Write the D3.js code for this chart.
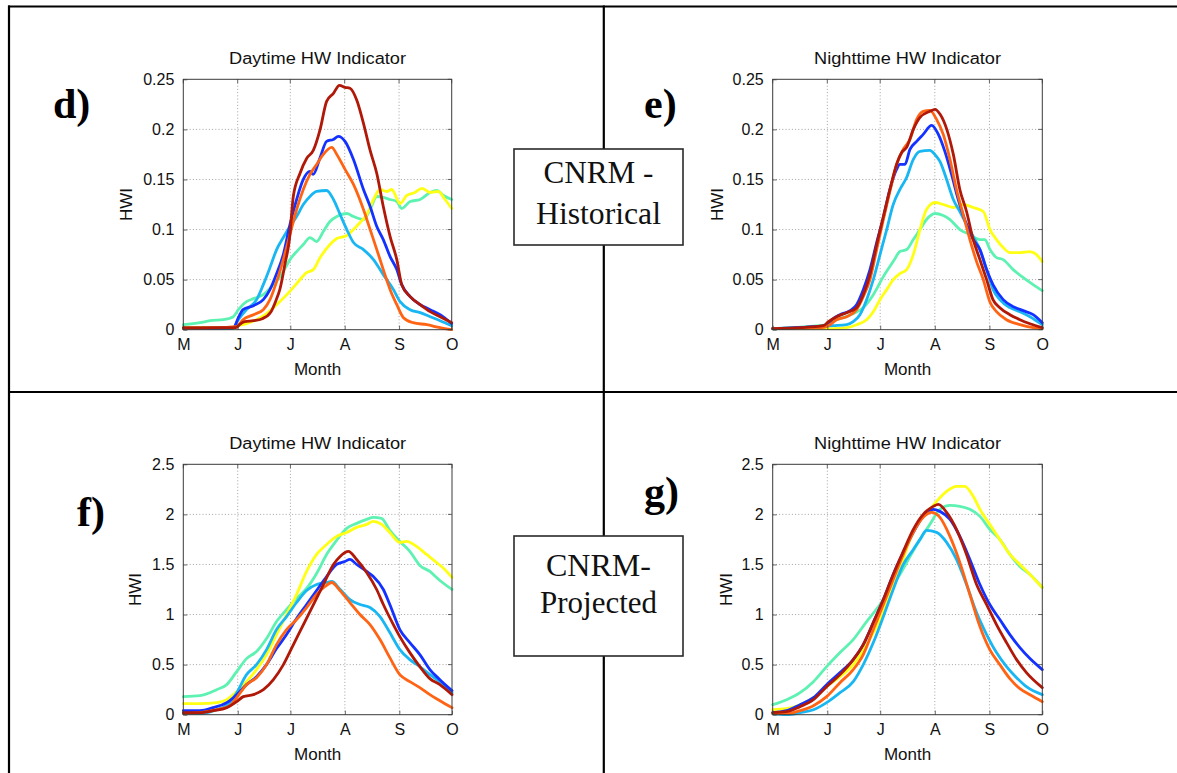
<!DOCTYPE html>
<html><head><meta charset="utf-8">
<script src="https://cdn.jsdelivr.net/npm/d3@7"></script>
<style>
html,body{margin:0;padding:0;background:#fff;}
svg{display:block;}
</style></head>
<body>
<svg id="chart" width="1177" height="773"></svg>
<script>
// ---------- DATA ----------
// x = day since 1 May (0 .. 153 = 1 Oct), y = HWI
const monthTicks = [0, 31, 61, 92, 123, 153];
const monthLabels = ["M", "J", "J", "A", "S", "O"];
const histTicks = [0, 0.05, 0.1, 0.15, 0.2, 0.25];
const histTickLabels = ["0", "0.05", "0.1", "0.15", "0.2", "0.25"];
const projTicks = [0, 0.5, 1, 1.5, 2, 2.5];
const projTickLabels = ["0", "0.5", "1", "1.5", "2", "2.5"];
const seriesNames = ["aqua", "yellow", "sky", "blue", "orange", "red"];

// Panel d) CNRM historical, daytime
const dBlue = [[0,0.001],[28.5,0.002],[31.4,0.012],[34,0.02],[40,0.024],[45.6,0.03],[49.4,0.04],[53,0.055],[57,0.075],[60.8,0.105],[64.6,0.13],[68.4,0.15],[72.2,0.158],[74,0.155],[78,0.172],[81.7,0.188],[85.5,0.19],[88.4,0.193],[92.2,0.188],[97,0.17],[102.7,0.14],[106.5,0.123],[110.3,0.103],[114,0.09],[117.9,0.073],[121.7,0.06],[124.5,0.045],[129.3,0.033],[135,0.025],[140.7,0.02],[146.4,0.015],[153,0.006]];
const dSky = [[0,0.001],[28,0.001],[31.4,0.01],[36,0.02],[41.8,0.03],[45.6,0.045],[49.4,0.062],[53.2,0.08],[57,0.092],[60.8,0.103],[64.6,0.113],[68.4,0.125],[72.2,0.133],[76,0.138],[81.7,0.139],[85.6,0.13],[89.4,0.115],[93.2,0.1],[97,0.087],[102.7,0.08],[108.4,0.07],[114,0.055],[119.8,0.04],[123.6,0.028],[129.3,0.02],[135,0.017],[140.7,0.013],[146.4,0.009],[153,0.004]];
const dAqua = [[0,0.005],[9.5,0.007],[15.2,0.009],[22.8,0.01],[28.5,0.013],[31.4,0.02],[36,0.028],[40,0.031],[45.6,0.035],[51.3,0.045],[56,0.055],[60.8,0.07],[64.6,0.078],[68.4,0.085],[72.2,0.092],[76,0.088],[79.8,0.098],[83.6,0.108],[87.5,0.113],[93.2,0.116],[97,0.113],[102.7,0.11],[106.5,0.12],[110.3,0.133],[114,0.132],[117.9,0.13],[121.7,0.128],[124.5,0.121],[129.3,0.128],[135,0.13],[140.7,0.137],[144.5,0.139],[148.3,0.134],[153,0.13]];
const dYellow = [[0,0.002],[28.5,0.002],[31.4,0.004],[36,0.006],[41.8,0.01],[47.5,0.016],[53.2,0.025],[59,0.035],[64.6,0.046],[70.3,0.057],[74.1,0.06],[78,0.072],[83.6,0.085],[87.5,0.091],[93.2,0.094],[97,0.1],[100.8,0.107],[104.6,0.115],[108.4,0.13],[112.2,0.14],[116,0.138],[118.8,0.14],[123.6,0.126],[127.4,0.134],[132,0.137],[136,0.141],[140.7,0.137],[145.4,0.138],[149.2,0.13],[153,0.121]];
const dOrange = [[0,0.001],[30.4,0.003],[34,0.01],[40,0.015],[45.6,0.02],[49.4,0.03],[53.2,0.048],[57,0.07],[60.8,0.095],[64.6,0.12],[68.4,0.14],[72.2,0.155],[76,0.165],[79.8,0.175],[84.6,0.182],[87.5,0.175],[92.2,0.16],[97,0.145],[102.7,0.12],[106.5,0.1],[110.3,0.08],[114,0.06],[117.9,0.04],[121.7,0.025],[125.5,0.012],[131,0.007],[138.8,0.005],[146.4,0.002],[153,0.0]];
const dRed = [[0,0.002],[20,0.002],[30,0.002],[32,0.005],[35,0.008],[40,0.009],[45,0.011],[50,0.018],[53,0.03],[55,0.04],[58,0.066],[60.5,0.09],[62.7,0.133],[66.5,0.156],[70.3,0.171],[74.1,0.179],[78,0.2],[81.7,0.228],[85.6,0.236],[89,0.244],[92.2,0.242],[95,0.241],[98.9,0.229],[102.7,0.206],[106.5,0.179],[110.3,0.156],[114,0.123],[117.9,0.093],[121.7,0.07],[124.5,0.045],[129.3,0.033],[135,0.025],[140.7,0.018],[146.4,0.013],[153,0.007]];

// Panel e) CNRM historical, nighttime
const eBlue = [[0,0.001],[30.6,0.004],[33.5,0.01],[38.2,0.015],[43.9,0.019],[47.6,0.025],[51.4,0.04],[55.2,0.06],[59,0.087],[62.8,0.112],[66.5,0.14],[70.3,0.16],[72.2,0.165],[75,0.165],[77.9,0.18],[81.7,0.188],[85.4,0.195],[90.2,0.204],[94,0.195],[97.7,0.178],[101.5,0.155],[105.3,0.13],[110,0.105],[113.8,0.09],[117.6,0.08],[121.4,0.06],[125,0.045],[130.8,0.03],[136.5,0.023],[142.2,0.019],[147.8,0.015],[153,0.007]];
const eSky = [[0,0.001],[34.4,0.004],[42,0.005],[45.7,0.008],[49.5,0.015],[53.3,0.03],[57.1,0.05],[60.9,0.075],[64.7,0.1],[68.4,0.125],[72.2,0.14],[76,0.152],[79.8,0.17],[83.6,0.178],[89.2,0.179],[92,0.175],[94.9,0.168],[98.7,0.15],[102.5,0.13],[106.2,0.118],[110,0.105],[113.8,0.093],[117.6,0.08],[121.4,0.06],[125.1,0.04],[128.9,0.03],[134.6,0.022],[140.3,0.018],[146,0.013],[153,0.005]];
const eAqua = [[0,0.001],[30.6,0.005],[34.4,0.009],[40,0.012],[45.7,0.016],[51.4,0.022],[57.1,0.035],[62.8,0.053],[68.4,0.068],[72.2,0.078],[76,0.08],[79.8,0.09],[83.6,0.1],[87.3,0.11],[92.1,0.116],[96.8,0.114],[100.6,0.11],[106.2,0.1],[111.9,0.095],[117.6,0.09],[120.4,0.09],[123.3,0.08],[127,0.072],[130.8,0.07],[136.5,0.06],[142.2,0.052],[147.8,0.045],[153,0.039]];
const eYellow = [[0,0.001],[34.4,0.001],[42,0.002],[47.6,0.005],[53.3,0.01],[57.1,0.018],[60.9,0.03],[64.7,0.04],[68.4,0.05],[72.2,0.056],[76,0.06],[79.8,0.075],[83.6,0.1],[87.3,0.12],[92.1,0.127],[96.8,0.125],[102.5,0.122],[108.1,0.125],[113.8,0.122],[119.5,0.118],[123.3,0.1],[127,0.09],[130.8,0.082],[134.6,0.077],[140.3,0.077],[146,0.078],[149.7,0.075],[153,0.068]];
const eOrange = [[0,0.001],[28,0.002],[31.6,0.004],[36.3,0.01],[42,0.013],[47.6,0.02],[51.4,0.033],[55.2,0.05],[59,0.08],[62.8,0.11],[66.5,0.138],[70.3,0.165],[74.1,0.18],[77.9,0.19],[81.7,0.21],[85.4,0.218],[89.2,0.219],[93,0.21],[96.8,0.195],[100.6,0.17],[104.3,0.14],[108.1,0.115],[111.9,0.09],[115.7,0.068],[119.5,0.05],[123.2,0.028],[127,0.018],[132.7,0.01],[140.3,0.005],[147.8,0.002],[153,0.001]];
const eRed = [[0,0.001],[15.5,0.002],[28.7,0.004],[31.6,0.008],[36.3,0.013],[42,0.017],[47.6,0.022],[51.4,0.035],[55.2,0.055],[59,0.085],[62.8,0.113],[66.5,0.14],[70.3,0.165],[73.2,0.177],[76,0.182],[79.8,0.2],[83.6,0.212],[89.2,0.218],[92.1,0.22],[95,0.215],[98.8,0.2],[102.5,0.175],[106.2,0.14],[110,0.118],[113.8,0.09],[117.6,0.07],[121.4,0.05],[125,0.03],[128.9,0.022],[134.6,0.015],[140.3,0.01],[146,0.006],[153,0.002]];

// Panel f) CNRM projected, daytime
const fBlue = [[0,0.04],[9.5,0.04],[17,0.07],[24.7,0.12],[30.4,0.2],[36,0.3],[41.7,0.38],[47.4,0.5],[53.1,0.66],[58.8,0.8],[64.5,0.96],[70.2,1.1],[75.9,1.24],[81.6,1.38],[87.3,1.5],[92,1.53],[94.9,1.55],[98.7,1.5],[104.4,1.43],[108.2,1.38],[113.9,1.25],[117.6,1.1],[123.3,0.85],[129,0.72],[134.7,0.6],[140.4,0.45],[146.1,0.35],[153,0.24]];
const fSky = [[0,0.01],[9.5,0.01],[19,0.05],[26.6,0.12],[30.4,0.22],[36,0.4],[41.7,0.5],[47.4,0.65],[53.1,0.85],[58.8,0.98],[64.5,1.12],[70.2,1.24],[75.9,1.3],[81.6,1.32],[84.5,1.33],[89.3,1.25],[94.9,1.15],[100.6,1.1],[106.3,1.07],[112,0.98],[117.6,0.82],[123.3,0.65],[129,0.55],[134.7,0.48],[140.4,0.4],[146.1,0.33],[153,0.22]];
const fAqua = [[0,0.18],[9.5,0.19],[19,0.25],[24.7,0.3],[30.4,0.43],[36,0.56],[41.7,0.63],[47.4,0.76],[53.1,0.93],[58.8,1.05],[64.5,1.16],[70.2,1.26],[75.9,1.41],[81.6,1.6],[87.3,1.74],[93,1.86],[98.7,1.91],[104.4,1.95],[108.2,1.97],[112.9,1.96],[117.6,1.84],[123.3,1.73],[129,1.63],[134.7,1.49],[140.4,1.43],[146.1,1.34],[153,1.25]];
const fYellow = [[0,0.11],[9.5,0.11],[19,0.12],[24.7,0.15],[30.4,0.23],[36,0.33],[41.7,0.45],[47.4,0.6],[53.1,0.8],[58.8,1.0],[64.5,1.2],[70.2,1.43],[75.9,1.6],[81.6,1.7],[87.3,1.78],[93,1.82],[98.7,1.87],[104.4,1.9],[108.2,1.93],[112.9,1.9],[117.6,1.82],[123.3,1.72],[127.1,1.73],[132.8,1.68],[138.5,1.6],[144.2,1.52],[148.9,1.45],[153,1.37]];
const fOrange = [[0,0.01],[9.5,0.02],[19,0.05],[26.6,0.09],[30.4,0.17],[36,0.3],[41.7,0.37],[47.4,0.5],[53.1,0.7],[58.8,0.85],[64.5,0.95],[70.2,1.07],[75.9,1.2],[80.7,1.28],[84.5,1.32],[89.2,1.24],[94.9,1.12],[100.6,1.0],[106.3,0.9],[112,0.75],[117.6,0.57],[123.3,0.4],[129,0.33],[134.7,0.27],[140.4,0.2],[146.1,0.14],[153,0.07]];
const fRed = [[0,0.02],[9.5,0.02],[17,0.04],[24.7,0.07],[30.4,0.13],[34.2,0.18],[39.9,0.2],[45.6,0.25],[51.3,0.35],[57,0.5],[62.7,0.7],[68.4,0.9],[74.1,1.1],[79.8,1.3],[85.5,1.5],[89.3,1.58],[94,1.63],[98.7,1.55],[104.4,1.42],[110.1,1.25],[113.9,1.1],[119.6,0.9],[123.3,0.78],[129,0.62],[134.7,0.48],[140.4,0.36],[146.1,0.3],[153,0.2]];

// Panel g) CNRM projected, nighttime
const gBlue = [[0,0.02],[7.9,0.04],[15.5,0.1],[23.1,0.17],[30.6,0.3],[38.2,0.42],[45.7,0.55],[51.4,0.7],[57.1,0.92],[62.8,1.15],[68.4,1.4],[74.1,1.62],[79.8,1.82],[85.4,1.98],[91.1,2.05],[94.9,2.03],[100.6,1.95],[106.2,1.78],[111.9,1.55],[117.6,1.3],[123.2,1.1],[128.9,0.95],[134.6,0.8],[140.3,0.67],[146,0.56],[153,0.45]];
const gSky = [[0,0.01],[7.9,0.0],[15.5,0.02],[23.1,0.05],[30.6,0.12],[38.2,0.22],[45.7,0.33],[51.4,0.5],[57.1,0.72],[62.8,0.98],[68.4,1.25],[74.1,1.5],[79.8,1.65],[83.6,1.75],[87.3,1.84],[93,1.82],[98.7,1.72],[104.3,1.55],[110,1.3],[115.7,1.02],[121.4,0.8],[127,0.62],[132.7,0.48],[138.4,0.37],[144,0.28],[153,0.2]];
const gAqua = [[0,0.1],[7.9,0.15],[15.5,0.22],[23.1,0.33],[30.6,0.48],[38.2,0.62],[45.7,0.75],[53.3,0.93],[60.9,1.1],[66.5,1.25],[72.2,1.4],[77.9,1.58],[83.6,1.75],[89.2,1.9],[94.9,2.05],[100.6,2.09],[106.2,2.08],[111.9,2.05],[117.6,1.98],[123.2,1.85],[128.9,1.75],[134.6,1.6],[140.3,1.48],[146,1.4],[153,1.27]];
const gYellow = [[0,0.05],[7.9,0.06],[15.5,0.1],[23.1,0.17],[30.6,0.28],[38.2,0.38],[45.7,0.5],[53.3,0.7],[60.9,0.95],[66.5,1.2],[72.2,1.45],[77.9,1.75],[83.6,1.95],[89.2,2.05],[93,2.13],[98.7,2.23],[104.3,2.28],[109,2.28],[113.8,2.18],[117.6,2.05],[123.2,1.9],[128.9,1.75],[134.6,1.6],[140.3,1.5],[146,1.4],[153,1.27]];
const gOrange = [[0,0.01],[7.9,0.01],[15.5,0.04],[23.1,0.09],[30.6,0.18],[38.2,0.32],[45.7,0.45],[51.4,0.6],[57.1,0.85],[62.8,1.1],[68.4,1.35],[74.1,1.6],[79.8,1.82],[85.4,1.97],[90.2,2.02],[94.9,1.97],[100.6,1.78],[106.2,1.52],[111.9,1.2],[117.6,0.88],[123.2,0.65],[128.9,0.5],[134.6,0.36],[140.3,0.26],[146,0.2],[153,0.13]];
const gRed = [[0,0.02],[7.9,0.03],[15.5,0.08],[23.1,0.15],[30.6,0.28],[38.2,0.4],[45.7,0.55],[51.4,0.7],[57.1,0.92],[62.8,1.15],[68.4,1.4],[74.1,1.63],[79.8,1.85],[85.4,2.0],[91.1,2.08],[94,2.1],[98.7,2.02],[104.3,1.85],[110,1.6],[115.7,1.3],[121.4,1.1],[127,0.9],[132.7,0.72],[138.4,0.55],[144,0.42],[153,0.27]];

// ---------- STYLE / LAYOUT ----------
const colors = {aqua:"#5ef2b2", yellow:"#ffff14", sky:"#18b6f2", blue:"#1432ff", orange:"#ff6414", red:"#b01808"};
const sansFont = "'Liberation Sans', Arial, Helvetica, sans-serif";
const serifFont = "'Liberation Serif', 'Times New Roman', serif";

const panels = [
  {id:"d", title:"Daytime HW Indicator", titleLen:177, left:183.3, top:79.3, width:268.4, height:250.4, ticks:histTicks, tickLabels:histTickLabels, ymax:0.25, ylabOff:57,
   data:{aqua:dAqua, yellow:dYellow, sky:dSky, blue:dBlue, orange:dOrange, red:dRed}, label:"d)", lx:53, ly:118},
  {id:"e", title:"Nighttime HW Indicator", titleLen:187, left:772.7, top:79.3, width:269.6, height:250.4, ticks:histTicks, tickLabels:histTickLabels, ymax:0.25, ylabOff:56,
   data:{aqua:eAqua, yellow:eYellow, sky:eSky, blue:eBlue, orange:eOrange, red:eRed}, label:"e)", lx:644, ly:118},
  {id:"f", title:"Daytime HW Indicator", titleLen:177, left:183.3, top:464.3, width:268.7, height:250.4, ticks:projTicks, tickLabels:projTickLabels, ymax:2.5, ylabOff:48,
   data:{aqua:fAqua, yellow:fYellow, sky:fSky, blue:fBlue, orange:fOrange, red:fRed}, label:"f)", lx:77, ly:526},
  {id:"g", title:"Nighttime HW Indicator", titleLen:187, left:772.7, top:464.3, width:269.6, height:250.4, ticks:projTicks, tickLabels:projTickLabels, ymax:2.5, ylabOff:47,
   data:{aqua:gAqua, yellow:gYellow, sky:gSky, blue:gBlue, orange:gOrange, red:gRed}, label:"g)", lx:644, ly:506}
];

const svg = d3.select("#chart");
svg.append("rect").attr("width",1177).attr("height",773).attr("fill","#fff");

// table frame lines
const frame = svg.append("g").attr("stroke","#000").attr("stroke-width",2.2);
frame.append("line").attr("x1",8).attr("x2",1177).attr("y1",6.5).attr("y2",6.5);
frame.append("line").attr("x1",9).attr("x2",9).attr("y1",5.5).attr("y2",773);
frame.append("line").attr("x1",603.8).attr("x2",603.8).attr("y1",5.5).attr("y2",773);
frame.append("line").attr("x1",8).attr("x2",1177).attr("y1",392).attr("y2",392);

panels.forEach(p => {
  const x = d3.scaleLinear().domain([0,153]).range([p.left, p.left + p.width]);
  const y = d3.scaleLinear().domain([0,p.ymax]).range([p.top + p.height, p.top]);
  const g = svg.append("g");

  g.append("rect").attr("x",p.left).attr("y",p.top).attr("width",p.width).attr("height",p.height).attr("fill","#fff");

  // grid
  const grid = g.append("g").attr("stroke","#8c8c8c").attr("stroke-width",0.8).attr("stroke-dasharray","1 2.2");
  monthTicks.slice(1,-1).forEach(t => {
    grid.append("line").attr("x1",x(t)).attr("x2",x(t)).attr("y1",p.top).attr("y2",p.top+p.height);
  });
  p.ticks.slice(1,-1).forEach(t => {
    grid.append("line").attr("x1",p.left).attr("x2",p.left+p.width).attr("y1",y(t)).attr("y2",y(t));
  });

  // lines
  const line = d3.line().x(d => x(d[0])).y(d => y(d[1])).curve(d3.curveMonotoneX);
  seriesNames.forEach(name => {
    g.append("path").datum(p.data[name]).attr("d",line)
      .attr("fill","none").attr("stroke",colors[name]).attr("stroke-width",2.8)
      .attr("stroke-linejoin","round").attr("stroke-linecap","round");
  });

  // axes
  const xAxis = d3.axisBottom(x).tickValues(monthTicks).tickFormat((d,i) => monthLabels[i]).tickSizeInner(-4).tickSizeOuter(0).tickPadding(9);
  const yAxis = d3.axisLeft(y).tickValues(p.ticks).tickFormat((d,i) => p.tickLabels[i]).tickSizeInner(-4).tickSizeOuter(0).tickPadding(9);
  const gx = g.append("g").attr("transform",`translate(0,${p.top+p.height})`).call(xAxis);
  const gy = g.append("g").attr("transform",`translate(${p.left},0)`).call(yAxis);
  [gx, gy].forEach(ax => {
    ax.select(".domain").remove();
    ax.selectAll(".tick line").attr("stroke","#444").attr("stroke-width",0.8);
    ax.selectAll(".tick text").attr("fill","#111").style("font-family",sansFont).style("font-size","16px");
  });
  const tt = g.append("g").attr("stroke","#444").attr("stroke-width",0.8);
  monthTicks.forEach(t => tt.append("line").attr("x1",x(t)).attr("x2",x(t)).attr("y1",p.top).attr("y2",p.top+4));
  p.ticks.forEach(t => tt.append("line").attr("x1",p.left+p.width).attr("x2",p.left+p.width-4).attr("y1",y(t)).attr("y2",y(t)));

  g.append("rect").attr("x",p.left).attr("y",p.top).attr("width",p.width).attr("height",p.height)
    .attr("fill","none").attr("stroke","#3a3a3a").attr("stroke-width",1);

  // title & axis labels
  g.append("text").attr("x",p.left+p.width/2).attr("y",p.top-15).attr("text-anchor","middle")
    .attr("textLength",p.titleLen).attr("lengthAdjust","spacingAndGlyphs")
    .style("font-family",sansFont).style("font-size","16px").attr("fill","#111").text(p.title);
  g.append("text").attr("x",p.left+p.width/2).attr("y",p.top+p.height+45).attr("text-anchor","middle")
    .style("font-family",sansFont).style("font-size","17px").attr("fill","#111").text("Month");
  g.append("text").attr("transform",`translate(${p.left-p.ylabOff},${p.top+p.height/2}) rotate(-90)`)
    .attr("text-anchor","middle").attr("dy","0.35em")
    .style("font-family",sansFont).style("font-size","17px").attr("fill","#111").text("HWI");

  // panel letter
  svg.append("text").attr("x",p.lx).attr("y",p.ly)
    .style("font-family",serifFont).style("font-size","42px").style("font-weight","bold").attr("fill","#000").text(p.label);
});

// centre boxes
const boxes = [
  {x:514, y:149, w:169, h:96, lines:[{t:"CNRM -", y:183, len:110},{t:"Historical", y:224, len:125}]},
  {x:514, y:536, w:169, h:120, lines:[{t:"CNRM-", y:576, len:105},{t:"Projected", y:613, len:117}]}
];
boxes.forEach(b => {
  svg.append("rect").attr("x",b.x).attr("y",b.y).attr("width",b.w).attr("height",b.h)
    .attr("fill","#fff").attr("stroke","#2a2a2a").attr("stroke-width",1.6);
  b.lines.forEach(l => {
    svg.append("text").attr("x",b.x+b.w/2).attr("y",l.y).attr("text-anchor","middle")
      .attr("textLength",l.len).attr("lengthAdjust","spacingAndGlyphs")
      .style("font-family",serifFont).style("font-size","31px").attr("fill","#111").text(l.t);
  });
});
</script>
</body></html>
